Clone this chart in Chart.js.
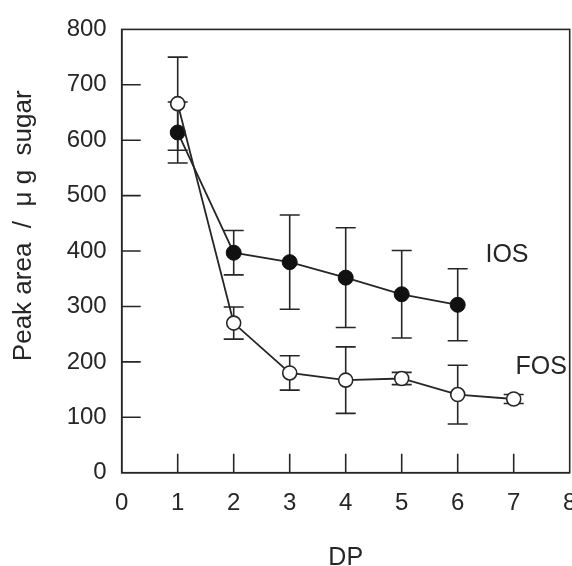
<!DOCTYPE html>
<html>
<head>
<meta charset="utf-8">
<script src="https://cdn.jsdelivr.net/npm/chart.js@4.4.1/dist/chart.umd.min.js"></script>
<style>
  html, body { margin: 0; padding: 0; background: #fff; }
  #wrap { width: 572px; height: 566px; }
</style>
</head>
<body>
<div id="wrap"><canvas id="dpchart" width="572" height="566"></canvas></div>
<script>
// degree of polymerisation on x
var xTickValues = [0, 1, 2, 3, 4, 5, 6, 7, 8];
var yTickValues = [0, 100, 200, 300, 400, 500, 600, 700, 800];

var iosDP = [1, 2, 3, 4, 5, 6];
var iosMean = [614, 397, 380, 352, 322, 303];
var iosErr = [55, 40, 85, 90, 79, 65];

var fosDP = [1, 2, 3, 4, 5, 6, 7];
var fosMean = [666, 270, 180, 167, 170, 141, 133];
var fosErr = [84, 29, 31, 60, 11, 53, 8];

var seriesNames = ['FOS', 'IOS'];

var ink = '#262626';
var fontFamily = '"Liberation Sans", Arial, Helvetica, sans-serif';

function points(xs, ys) {
    var out = [];
    for (var i in xs) {
        out.push({x: xs[i], y: ys[i]});
    }
    return out;
}

// error bars, inward ticks, frame and series labels
var decorations = {
    id: 'decorations',
    beforeDatasetsDraw: function(chart) {
        var ctx = chart.ctx;
        var xs = chart.scales.x, ys = chart.scales.y;
        var sets = [[fosDP, fosMean, fosErr], [iosDP, iosMean, iosErr]];
        ctx.save();
        ctx.strokeStyle = ink;
        ctx.lineWidth = 1.6;
        sets.forEach(function(s) {
            for (var i = 0; i < s[0].length; i++) {
                var px = xs.getPixelForValue(s[0][i]);
                var top = ys.getPixelForValue(s[1][i] + s[2][i]);
                var bot = ys.getPixelForValue(s[1][i] - s[2][i]);
                ctx.beginPath();
                ctx.moveTo(px, top); ctx.lineTo(px, bot);
                ctx.moveTo(px - 10, top); ctx.lineTo(px + 10, top);
                ctx.moveTo(px - 10, bot); ctx.lineTo(px + 10, bot);
                ctx.stroke();
            }
        });
        ctx.restore();
    },
    afterDraw: function(chart) {
        var ctx = chart.ctx;
        var a = chart.chartArea;
        var xs = chart.scales.x, ys = chart.scales.y;
        ctx.save();
        ctx.strokeStyle = ink;
        ctx.lineWidth = 1.6;
        ctx.strokeRect(a.left, a.top, a.right - a.left, a.bottom - a.top);
        ctx.beginPath();
        yTickValues.forEach(function(v) {
            if (v === 0 || v === 800) return;
            var py = ys.getPixelForValue(v);
            ctx.moveTo(a.left, py); ctx.lineTo(a.left + 19, py);
        });
        xTickValues.forEach(function(v) {
            if (v === 0 || v === 8) return;
            var px = xs.getPixelForValue(v);
            ctx.moveTo(px, a.bottom); ctx.lineTo(px, a.bottom - 19);
        });
        ctx.stroke();

        ctx.fillStyle = ink;
        ctx.font = '25px ' + fontFamily;
        ctx.textAlign = 'center';
        ctx.textBaseline = 'middle';
        ctx.fillText(seriesNames[1], xs.getPixelForValue(6.88), ys.getPixelForValue(393));
        ctx.fillText(seriesNames[0], xs.getPixelForValue(7.49), ys.getPixelForValue(191));
        ctx.restore();
    }
};

var chartdata = {
    datasets: [{
        label: seriesNames[0],
        data: points(fosDP, fosMean),
        borderColor: ink,
        borderWidth: 1.8,
        backgroundColor: '#ffffff',
        pointBackgroundColor: '#ffffff',
        pointBorderColor: ink,
        pointBorderWidth: 1.6,
        pointRadius: 7,
        lineTension: 0,
        fill: false
    }, {
        label: seriesNames[1],
        data: points(iosDP, iosMean),
        borderColor: ink,
        borderWidth: 1.8,
        backgroundColor: '#111111',
        pointBackgroundColor: '#111111',
        pointBorderColor: '#111111',
        pointBorderWidth: 1,
        pointRadius: 7.5,
        lineTension: 0,
        fill: false
    }]
};

var canvas = document.getElementById('dpchart');
var dpChart = new Chart(canvas, {
    type: 'line',
    data: chartdata,
    options: {
        responsive: false,
        animation: false,
        layout: { autoPadding: false, padding: { top: 23.3, right: 2.3, bottom: 0, left: 0 } },
        plugins: {
            legend: { display: false },
            tooltip: { enabled: false }
        },
        scales: {
            x: {
                type: 'linear',
                min: 0,
                max: 8,
                grid: { display: false, drawTicks: false },
                border: { display: true, color: ink, width: 1.6 },
                afterBuildTicks: function(scale) {
                    scale.ticks = xTickValues.map(function(v) { return {value: v}; });
                },
                afterFit: function(scale) {
                    scale.height = 93.3;
                    scale.paddingRight = 0;
                },
                ticks: {
                    padding: 16,
                    color: ink,
                    font: { size: 24, family: fontFamily }
                },
                title: {
                    display: true,
                    text: 'DP',
                    color: ink,
                    padding: { top: 0, bottom: 0 },
                    font: { size: 25, family: fontFamily, lineHeight: 0.6 }
                }
            },
            y: {
                min: 0,
                max: 800,
                grid: { display: false, drawTicks: false },
                border: { display: true, color: ink, width: 1.6 },
                afterBuildTicks: function(scale) {
                    scale.ticks = yTickValues.map(function(v) { return {value: v}; });
                },
                afterFit: function(scale) {
                    scale.width = 121.7;
                },
                ticks: {
                    padding: 15,
                    color: ink,
                    font: { size: 24, family: fontFamily }
                },
                title: {
                    display: true,
                    text: '       Peak area  /  \u03bc g  sugar',
                    color: ink,
                    padding: { top: 8, bottom: 0 },
                    font: { size: 26, family: fontFamily }
                }
            }
        }
    },
    plugins: [decorations]
});
</script>
</body>
</html>
